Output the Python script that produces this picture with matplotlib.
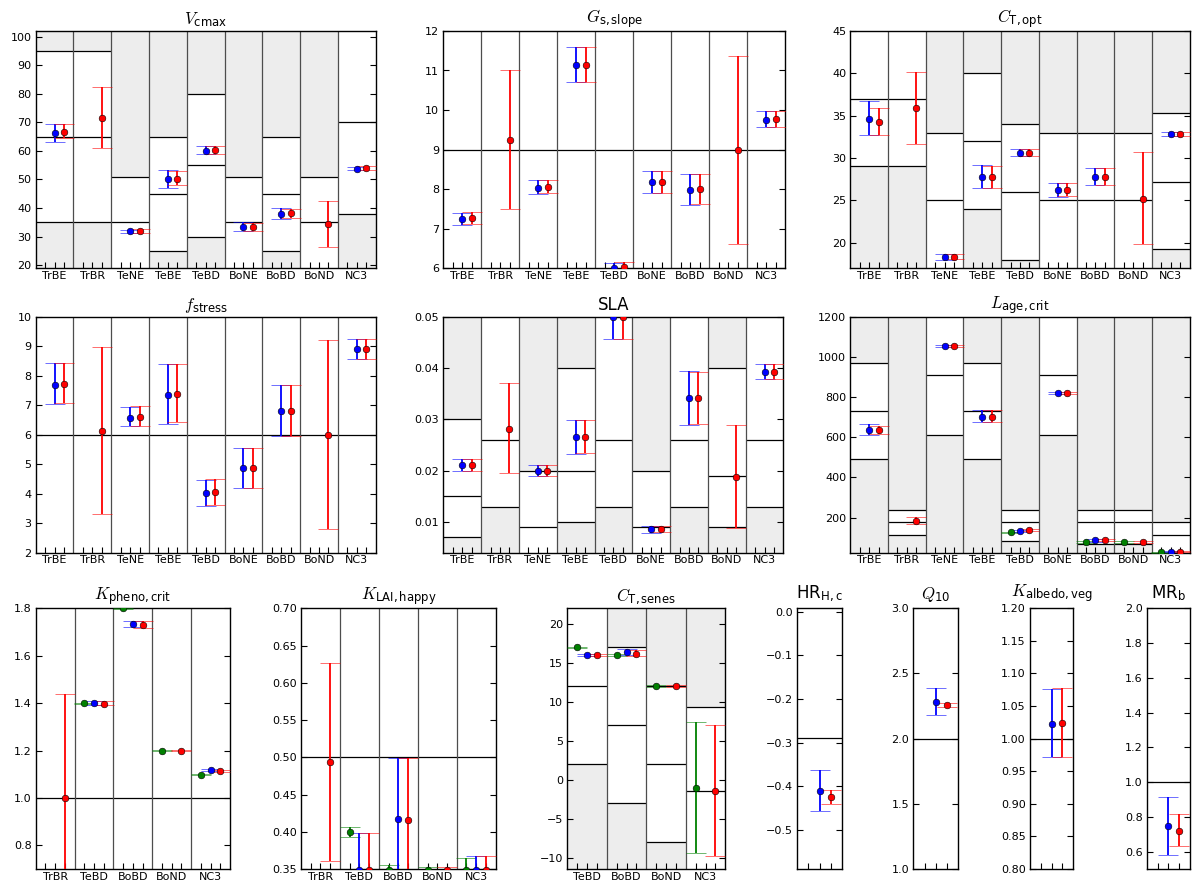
import numpy as np
import matplotlib.pyplot as plt

plt.rcParams['font.family'] = ['DejaVu Sans']
plt.rcParams['mathtext.fontset'] = 'custom'
plt.rcParams['mathtext.rm'] = 'DejaVu Sans'
plt.rcParams['mathtext.sf'] = 'DejaVu Sans'
plt.rcParams['mathtext.it'] = 'cmmi10'
plt.rcParams['axes.unicode_minus'] = True

# categories
pfts9 = ['TrBE', 'TrBR', 'TeNE', 'TeBE', 'TeBD', 'BoNE', 'BoBD', 'BoND', 'NC3']
pfts5 = ['TrBR', 'TeBD', 'BoBD', 'BoND', 'NC3']
pfts4 = ['TeBD', 'BoBD', 'BoND', 'NC3']
pfts1 = ['']

# each estimate is (value, lower, upper); None = not shown
# prior range lo/hi (None = outside the axis) and default value per category

# Vcmax
vcmax_lo = [35, 35, None, 25, 30, None, 25, None, 38]
vcmax_hi = [95, 95, 51, 65, 80, 51, 65, 51, None]
vcmax_def = [65, 65, 35, 45, 55, 35, 45, 35, 70]
vcmax_blue = [(66.2, 63.0, 69.3), None, (31.8, 31.2, 32.4), (50.0, 47.0, 53.3), (60.1, 59.0, 61.8),
              (33.2, 31.8, 35.2), (38.0, 36.2, 40.0), None, (53.8, 53.3, 54.4)]
vcmax_red = [(66.8, 64.6, 69.3), (71.5, 61.0, 82.5), (31.9, 31.3, 32.5), (50.3, 48.0, 52.8), (60.3, 59.0, 61.8),
             (33.2, 32.0, 34.8), (38.2, 36.5, 39.8), (34.5, 26.5, 42.5), (53.9, 53.3, 54.6)]

# Gs,slope
gs_lo = [None, None, None, None, None, None, None, None, None]
gs_hi = [None, None, None, None, None, None, None, None, None]
gs_def = [9, 9, 9, 9, 9, 9, 9, 9, 9]
gs_blue = [(7.23, 7.08, 7.40), None, (8.03, 7.88, 8.22), (11.13, 10.70, 11.60), (6.00, 5.87, 6.13),
           (8.17, 7.90, 8.46), (7.97, 7.60, 8.37), None, (9.75, 9.57, 9.98)]
gs_red = [(7.27, 7.12, 7.41), (9.25, 7.50, 11.00), (8.05, 7.90, 8.22), (11.15, 10.72, 11.60), (6.02, 5.89, 6.15),
          (8.18, 7.90, 8.46), (8.00, 7.62, 8.37), (9.00, 6.62, 11.37), (9.77, 9.57, 9.98)]

# CT,opt
ctopt_lo = [29, 29, None, 24, 18, None, None, None, 19.3]
ctopt_hi = [None, None, 33, 40, 34, 33, 33, 33, 35.3]
ctopt_def = [37, 37, 25, 32, 26, 25, 25, 25, 27.2]
ctopt_blue = [(34.6, 32.7, 36.7), None, (18.3, 18.0, 18.6), (27.7, 26.4, 29.2), (30.6, 30.2, 31.1),
              (26.2, 25.4, 27.1), (27.7, 26.8, 28.8), None, (32.8, 32.6, 33.1)]
ctopt_red = [(34.3, 32.7, 35.9), (35.9, 31.6, 40.2), (18.3, 18.1, 18.6), (27.7, 26.5, 29.0), (30.6, 30.2, 31.1),
             (26.2, 25.5, 27.1), (27.7, 26.8, 28.8), (25.2, 19.8, 30.7), (32.8, 32.6, 33.1)]

# f_stress
fs_lo = [None, None, None, None, None, None, None, None, None]
fs_hi = [None, None, None, None, None, None, None, None, None]
fs_def = [6, 6, 6, 6, 6, 6, 6, 6, 6]
fs_blue = [(7.70, 7.03, 8.42), None, (6.58, 6.30, 6.93), (7.35, 6.37, 8.39), (4.02, 3.60, 4.46),
           (4.87, 4.21, 5.56), (6.82, 5.97, 7.70), None, (8.90, 8.57, 9.24)]
fs_red = [(7.73, 7.08, 8.44), (6.13, 3.32, 8.98), (6.60, 6.30, 6.96), (7.38, 6.43, 8.39), (4.05, 3.62, 4.50),
          (4.88, 4.21, 5.56), (6.82, 5.97, 7.70), (6.00, 2.80, 9.20), (8.90, 8.57, 9.24)]

# SLA
sla_lo = [0.007, 0.013, None, 0.010, 0.013, None, 0.013, 0.009, 0.013]
sla_hi = [0.030, None, 0.020, 0.040, None, 0.020, None, 0.040, None]
sla_def = [0.015, 0.026, 0.009, 0.020, 0.026, 0.009, 0.026, 0.019, 0.026]
sla_blue = [(0.0210, 0.0199, 0.0222), None, (0.0200, 0.0189, 0.0211), (0.0265, 0.0233, 0.0299),
            (0.0499, 0.0457, 0.0541), (0.0086, 0.0079, 0.0093), (0.0341, 0.0289, 0.0394), None,
            (0.0393, 0.0378, 0.0407)]
sla_red = [(0.0210, 0.0199, 0.0222), (0.0282, 0.0195, 0.0371), (0.0199, 0.0189, 0.0211), (0.0266, 0.0234, 0.0299),
           (0.0499, 0.0457, 0.0541), (0.0086, 0.0080, 0.0093), (0.0341, 0.0290, 0.0393), (0.0187, 0.0089, 0.0289),
           (0.0393, 0.0379, 0.0407)]

# Lage,crit
lage_lo = [490, 115, 610, 490, 85, 610, 70, 70, None]
lage_hi = [970, 237, None, 970, 237, None, 237, 237, 176]
lage_def = [730, 176, 910, 730, 176, 910, 176, 176, 115]
lage_green = [None, None, None, None, (127, 124, 130), None, (78, 74, 82), (78, 74, 82), (26, 24, 28)]
lage_blue = [(635, 612, 665), None, (1053, 1050, 1057), (703, 678, 733), (135, 130, 140), (820, 817, 824),
             (86, 80, 92), None, (29, 26, 32)]
lage_red = [(636, 618, 657), (185, 167, 205), (1053, 1049, 1057), (703, 675, 733), (138, 133, 143),
            (820, 817, 824), (87, 81, 93), (78, 74, 82), (29, 26, 32)]

# Kpheno,crit
kp_def = [1.0, 1.0, 1.0, 1.0, 1.0]
kp_green = [None, (1.400, 1.398, 1.402), (1.800, 1.798, 1.802), (1.200, 1.198, 1.202), (1.098, 1.095, 1.101)]
kp_blue = [None, (1.400, 1.390, 1.410), (1.733, 1.720, 1.748), None, (1.117, 1.112, 1.122)]
kp_red = [(1.000, 0.550, 1.440), (1.398, 1.390, 1.408), (1.730, 1.715, 1.745), (1.200, 1.198, 1.202),
          (1.114, 1.110, 1.118)]

# KLAI,happy
kl_def = [0.5, 0.5, 0.5, 0.5, 0.5]
kl_green = [None, (0.400, 0.393, 0.407), (0.349, 0.300, 0.355), (0.349, 0.300, 0.353), (0.349, 0.300, 0.365)]
kl_blue = [None, (0.349, 0.300, 0.399), (0.417, 0.300, 0.499), None, (0.349, 0.300, 0.368)]
kl_red = [(0.494, 0.361, 0.627), (0.349, 0.300, 0.399), (0.416, 0.300, 0.499), (0.349, 0.300, 0.353),
          (0.349, 0.300, 0.368)]

# CT,senes
cts_lo = [2, -3, -8, None]
cts_hi = [None, 17, 12, 9.4]
cts_def = [12, 7, 2, -1.4]
cts_green = [(17.0, 16.9, 17.1), (16.0, 15.9, 16.1), (12.05, 11.95, 12.15), (-1.0, -9.3, 7.4)]
cts_blue = [(16.0, 15.85, 16.15), (16.4, 16.05, 16.75), None, None]
cts_red = [(16.0, 15.85, 16.15), (16.2, 15.95, 16.6), (12.05, 11.95, 12.15), (-1.4, -9.7, 7.0)]

# single-value parameters
hr_def = [-0.29]
hr_blue = [(-0.410, -0.456, -0.362)]
hr_red = [(-0.425, -0.440, -0.409)]
q10_def = [2.0]
q10_blue = [(2.28, 2.18, 2.39)]
q10_red = [(2.255, 2.24, 2.27)]
kalb_def = [1.0]
kalb_blue = [(1.023, 0.972, 1.076)]
kalb_red = [(1.024, 0.972, 1.077)]
mrb_def = [1.0]
mrb_blue = [(0.745, 0.58, 0.915)]
mrb_red = [(0.72, 0.63, 0.815)]

W, H = 1198, 888
shade = '#ededed'


def make_ax(fig, l, r, t, b):
    return fig.add_axes([l / W, 1 - b / H, (r - l) / W, (b - t) / H])


def draw_panel(ax, names, dflt, series, ylim, yticks, title, lo=None, hi=None, tpad=5):
    n = len(names)
    for i in range(n):
        if lo is not None and lo[i] is not None:
            ax.fill_between([i, i + 1], ylim[0], lo[i], color=shade, lw=0, zorder=0)
            ax.hlines(lo[i], i, i + 1, colors='k', lw=0.9, zorder=1)
        if hi is not None and hi[i] is not None:
            ax.fill_between([i, i + 1], hi[i], ylim[1], color=shade, lw=0, zorder=0)
            ax.hlines(hi[i], i, i + 1, colors='k', lw=0.9, zorder=1)
        ax.hlines(dflt[i], i, i + 1, colors='k', lw=0.9, zorder=1)
    for i in range(1, n):
        ax.axvline(i, color='0.3', lw=0.9, zorder=1)
    for data, col, off in series:
        for i, d in enumerate(data):
            if d is None:
                continue
            v, l, h = d
            ax.errorbar(i + off, v, yerr=[[v - l], [h - v]], fmt='o', color=col, ms=4.8,
                        mec='k', mew=0.4, capsize=7, capthick=1.3, elinewidth=1.3, zorder=3)
    ax.set_xlim(0, n)
    ax.set_ylim(*ylim)
    ax.set_yticks(yticks)
    ticks = []
    labels = []
    for i, nm in enumerate(names):
        ticks += [i + 0.25, i + 0.5, i + 0.75]
        labels += ['', nm, '']
    ax.set_xticks(ticks)
    ax.set_xticklabels(labels)
    ax.tick_params(direction='in', length=4, width=0.8, labelsize=8, right=True, top=False, pad=3)
    ax.tick_params(axis='x', pad=2)
    for s in ax.spines.values():
        s.set_linewidth(1.0)
    ax.set_title(title, fontsize=12, pad=tpad)


fig = plt.figure(figsize=(W / 100, H / 100), dpi=100)

ax = make_ax(fig, 35.7, 375.7, 31, 268)
draw_panel(ax, pfts9, vcmax_def, [(vcmax_blue, 'b', 0.5), (vcmax_red, 'r', 0.75)],
           (19, 102), np.arange(20, 101, 10), r'$V_{\mathrm{cmax}}$', vcmax_lo, vcmax_hi)

ax = make_ax(fig, 443.3, 785, 31, 268)
draw_panel(ax, pfts9, gs_def, [(gs_blue, 'b', 0.5), (gs_red, 'r', 0.75)],
           (6, 12), np.arange(6, 13, 1), r'$G_{\mathrm{s,slope}}$', gs_lo, gs_hi)

ax = make_ax(fig, 850.3, 1189.7, 31, 268)
draw_panel(ax, pfts9, ctopt_def, [(ctopt_blue, 'b', 0.5), (ctopt_red, 'r', 0.75)],
           (17, 45), np.arange(20, 46, 5), r'$C_{\mathrm{T,opt}}$', ctopt_lo, ctopt_hi)

ax = make_ax(fig, 35.7, 375.7, 316.7, 552.7)
draw_panel(ax, pfts9, fs_def, [(fs_blue, 'b', 0.5), (fs_red, 'r', 0.75)],
           (2, 10), np.arange(2, 11, 1), r'$f_{\mathrm{stress}}$', fs_lo, fs_hi)

ax = make_ax(fig, 443.3, 783.5, 316.7, 552.7)
draw_panel(ax, pfts9, sla_def, [(sla_blue, 'b', 0.5), (sla_red, 'r', 0.75)],
           (0.004, 0.05), [0.01, 0.02, 0.03, 0.04, 0.05], 'SLA', sla_lo, sla_hi)

ax = make_ax(fig, 850.3, 1189.7, 316.7, 552.7)
draw_panel(ax, pfts9, lage_def, [(lage_green, 'g', 0.25), (lage_blue, 'b', 0.5), (lage_red, 'r', 0.75)],
           (25, 1200), np.arange(200, 1201, 200), r'$L_{\mathrm{age,crit}}$', lage_lo, lage_hi)

ax = make_ax(fig, 35.7, 230, 608.3, 869)
draw_panel(ax, pfts5, kp_def, [(kp_green, 'g', 0.25), (kp_blue, 'b', 0.5), (kp_red, 'r', 0.75)],
           (0.7, 1.8), [0.8, 1.0, 1.2, 1.4, 1.6, 1.8], r'$K_{\mathrm{pheno,crit}}$')

ax = make_ax(fig, 301, 495.7, 608.3, 869)
draw_panel(ax, pfts5, kl_def, [(kl_green, 'g', 0.25), (kl_blue, 'b', 0.5), (kl_red, 'r', 0.75)],
           (0.35, 0.70), [0.35, 0.40, 0.45, 0.50, 0.55, 0.60, 0.65, 0.70], r'$K_{\mathrm{LAI,happy}}$')

ax = make_ax(fig, 567.3, 725.3, 608.3, 869)
draw_panel(ax, pfts4, cts_def, [(cts_green, 'g', 0.25), (cts_blue, 'b', 0.5), (cts_red, 'r', 0.75)],
           (-11.4, 22), np.arange(-10, 21, 5), r'$C_{\mathrm{T,senes}}$', cts_lo, cts_hi)

ax = make_ax(fig, 797.3, 841.7, 608.3, 869)
draw_panel(ax, pfts1, hr_def, [(hr_blue, 'b', 0.5), (hr_red, 'r', 0.75)],
           (-0.59, 0.008), [-0.5, -0.4, -0.3, -0.2, -0.1, 0.0], r'$\mathrm{HR}_{\mathrm{H,c}}$', tpad=7)

ax = make_ax(fig, 913.3, 958.3, 608.3, 869)
draw_panel(ax, pfts1, q10_def, [(q10_blue, 'b', 0.5), (q10_red, 'r', 0.75)],
           (1.0, 3.0), [1.0, 1.5, 2.0, 2.5, 3.0], r'$Q_{10}$', tpad=7)

ax = make_ax(fig, 1030, 1073.3, 608.3, 869)
draw_panel(ax, pfts1, kalb_def, [(kalb_blue, 'b', 0.5), (kalb_red, 'r', 0.75)],
           (0.8, 1.2), [0.80, 0.85, 0.90, 0.95, 1.00, 1.05, 1.10, 1.15, 1.20], r'$K_{\mathrm{albedo,veg}}$',
           tpad=8)

ax = make_ax(fig, 1146.7, 1190, 608.3, 869)
draw_panel(ax, pfts1, mrb_def, [(mrb_blue, 'b', 0.5), (mrb_red, 'r', 0.75)],
           (0.5, 2.0), [0.6, 0.8, 1.0, 1.2, 1.4, 1.6, 1.8, 2.0], r'$\mathrm{MR}_{\mathrm{b}}$', tpad=7)

fig.savefig('out.png', dpi=100)
